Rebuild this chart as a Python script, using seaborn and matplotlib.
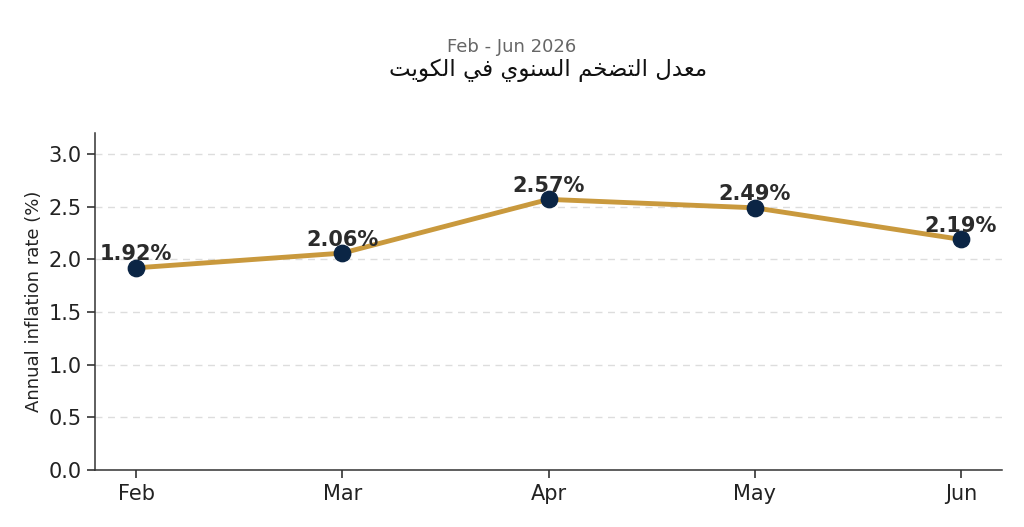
import matplotlib
matplotlib.use("Agg")
import matplotlib.pyplot as plt
import seaborn as sns
import pandas as pd

months = ["Feb", "Mar", "Apr", "May", "Jun"]
inflation = [1.92, 2.06, 2.57, 2.49, 2.19]
title_ar = "معدل التضخم السنوي في الكويت"
subtitle = "Feb - Jun 2026"
y_label = "Annual inflation rate (%)"
y_ticks = [0.0, 0.5, 1.0, 1.5, 2.0, 2.5, 3.0]

# minimal Arabic shaping (presentation forms) since matplotlib has no shaping
FORMS = {
    'ا': (0xFE8D, 0xFE8E, None, None),
    'د': (0xFEA9, 0xFEAA, None, None),
    'و': (0xFEED, 0xFEEE, None, None),
    'م': (0xFEE1, 0xFEE2, 0xFEE3, 0xFEE4),
    'ع': (0xFEC9, 0xFECA, 0xFECB, 0xFECC),
    'ل': (0xFEDD, 0xFEDE, 0xFEDF, 0xFEE0),
    'ت': (0xFE95, 0xFE96, 0xFE97, 0xFE98),
    'ض': (0xFEBD, 0xFEBE, 0xFEBF, 0xFEC0),
    'خ': (0xFEA5, 0xFEA6, 0xFEA7, 0xFEA8),
    'س': (0xFEB1, 0xFEB2, 0xFEB3, 0xFEB4),
    'ن': (0xFEE5, 0xFEE6, 0xFEE7, 0xFEE8),
    'ي': (0xFEF1, 0xFEF2, 0xFEF3, 0xFEF4),
    'ف': (0xFED1, 0xFED2, 0xFED3, 0xFED4),
    'ك': (0xFED9, 0xFEDA, 0xFEDB, 0xFEDC),
}


def shape(text):
    out = []
    for word in text.split(" "):
        chars = list(word)
        res = []
        for i, c in enumerate(chars):
            f = FORMS.get(c)
            if f is None:
                res.append(c)
                continue
            prev = chars[i - 1] if i > 0 else None
            nxt = chars[i + 1] if i + 1 < len(chars) else None
            join_prev = prev is not None and prev in FORMS and FORMS[prev][2] is not None
            join_next = nxt is not None and nxt in FORMS and f[2] is not None
            if join_prev and join_next:
                code = f[3]
            elif join_prev:
                code = f[1]
            elif join_next:
                code = f[2]
            else:
                code = f[0]
            res.append(chr(code))
        out.append("".join(res))
    return " ".join(out)[::-1]


sns.set_theme(style="white")
plt.rcParams['font.family'] = ['DejaVu Sans']

df = pd.DataFrame({"month": months, "rate": inflation})

fig = plt.figure(figsize=(10.24, 5.27), dpi=100)
ax = fig.add_axes([0.0928, 0.108, 0.8857, 0.6396])

sns.lineplot(data=df, x="month", y="rate", ax=ax, color="#C9993D",
             linewidth=3.5, sort=False, zorder=2)
sns.scatterplot(data=df, x="month", y="rate", ax=ax, color="#0B2545",
                s=140, edgecolor="#0B2545", zorder=3, legend=False)

for i, v in enumerate(inflation):
    ax.annotate(f"{v:.2f}%", (i, v), xytext=(0, 2.5), textcoords="offset points",
                ha="center", va="bottom", fontsize=15, fontweight="bold",
                color="#2b2b2b", zorder=4)

ax.set_xlim(-0.2, 4.2)
ax.set_ylim(0, 3.2)
ax.set_yticks(y_ticks)
ax.set_yticklabels([f"{t:.1f}" for t in y_ticks])
ax.yaxis.grid(True, linestyle=(0, (5, 4)), color="#dddddd", linewidth=1)
ax.set_axisbelow(True)
ax.set_xlabel("")
ax.set_ylabel(y_label, fontsize=13, color="#222222")
for s in ["top", "right"]:
    ax.spines[s].set_visible(False)
for s in ["left", "bottom"]:
    ax.spines[s].set_color("#333333")
    ax.spines[s].set_linewidth(1.1)
ax.tick_params(axis="both", which="both", labelsize=15, colors="#222222",
               length=6, width=1.1, direction="out", bottom=True, left=True)
ax.tick_params(axis="x", pad=4)

fig.text(0.5, 0.911, subtitle, ha="center", va="center", fontsize=13, color="#666666")
fig.text(0.535, 0.866, shape(title_ar), ha="center", va="center", fontsize=16.5,
         fontweight="normal", color="#111111")

fig.savefig("out.png", dpi=100)
